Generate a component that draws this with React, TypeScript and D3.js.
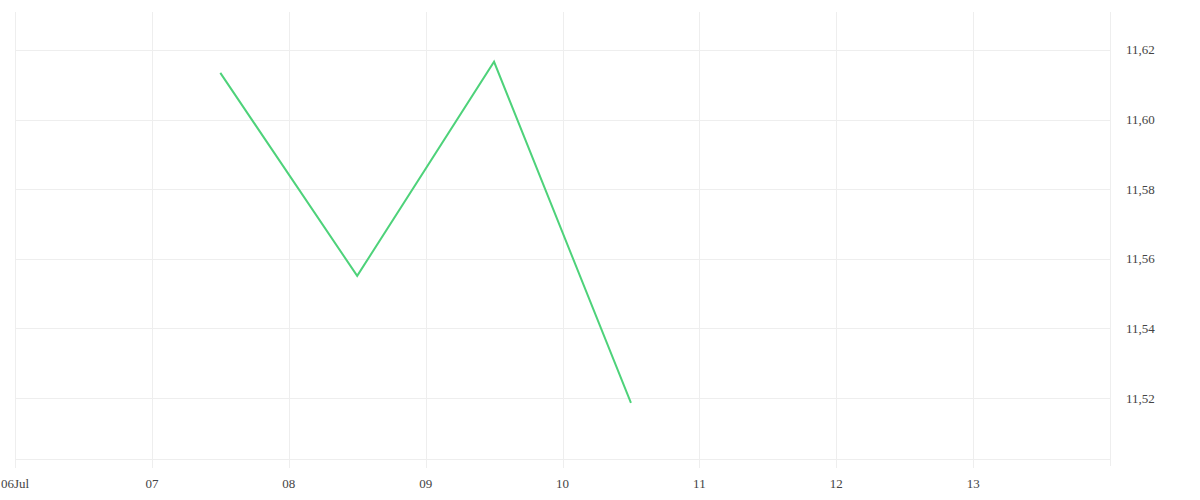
import React, { useEffect, useRef } from 'react';
import * as d3 from 'd3';

// daily closes, plotted at midday
const dates = ['2023-07-07T12:00', '2023-07-08T12:00', '2023-07-09T12:00', '2023-07-10T12:00'];
const values = [11.6134, 11.5551, 11.6166, 11.5186];
const yTicks = [11.52, 11.54, 11.56, 11.58, 11.6, 11.62];

const App: React.FC = () => {
  const ref = useRef<SVGSVGElement>(null);

  useEffect(() => {
    if (!ref.current) return;
    const width = 1200;
    const height = 500;
    const left = 15, right = 1110, top = 12, bottom = 459;

    const svg = d3.select(ref.current);
    svg.selectAll('*').remove();

    const parse = d3.timeParse('%Y-%m-%dT%H:%M');
    const data = dates.map((d, i) => ({ date: parse(d) as Date, value: values[i] }));

    const x = d3.scaleTime()
      .domain([new Date(2023, 6, 6), new Date(2023, 6, 14)])
      .range([left, right]);
    const y = d3.scaleLinear()
      .domain([11.5025, 11.6309])
      .range([bottom, top]);

    const locale = d3.formatLocale({ decimal: ',', thousands: '.', grouping: [3], currency: ['', ''] });
    const fmtY = locale.format('.2f');
    const xTicks = d3.timeDay.range(new Date(2023, 6, 6), new Date(2023, 6, 14));
    const fmtX = (d: Date, i: number) => (i === 0 ? d3.timeFormat('%d%b')(d) : d3.timeFormat('%d')(d));

    const grid = svg.append('g').attr('stroke', '#eeeeee').attr('stroke-width', 1).attr('shape-rendering', 'crispEdges');

    // horizontal grid lines
    grid.selectAll('line.h')
      .data(yTicks)
      .join('line')
      .attr('class', 'h')
      .attr('x1', left).attr('x2', right)
      .attr('y1', d => Math.round(y(d)) + 0.5).attr('y2', d => Math.round(y(d)) + 0.5);

    // bottom axis line
    grid.append('line')
      .attr('x1', left).attr('x2', right)
      .attr('y1', bottom + 0.5).attr('y2', bottom + 0.5);

    // vertical grid lines
    grid.selectAll('line.v')
      .data(xTicks)
      .join('line')
      .attr('class', 'v')
      .attr('x1', d => Math.round(x(d)) + 0.5).attr('x2', d => Math.round(x(d)) + 0.5)
      .attr('y1', top).attr('y2', bottom + 9);

    // right axis line
    grid.append('line')
      .attr('x1', right + 0.5).attr('x2', right + 0.5)
      .attr('y1', top).attr('y2', bottom + 7);

    // y labels
    svg.append('g')
      .attr('font-size', 13)
      .attr('fill', '#444')
      .selectAll('text')
      .data(yTicks)
      .join('text')
      .attr('x', right + 16)
      .attr('y', d => y(d))
      .attr('dy', '0.35em')
      .text(d => fmtY(d));

    // x labels
    svg.append('g')
      .attr('font-size', 13)
      .attr('fill', '#444')
      .attr('text-anchor', 'middle')
      .selectAll('text')
      .data(xTicks)
      .join('text')
      .attr('x', d => x(d))
      .attr('y', 488)
      .text((d, i) => fmtX(d, i));

    const line = d3.line<{ date: Date; value: number }>()
      .x(d => x(d.date))
      .y(d => y(d.value));

    svg.append('path')
      .datum(data)
      .attr('fill', 'none')
      .attr('stroke', '#4ed27a')
      .attr('stroke-width', 2)
      .attr('d', line);

    svg.attr('width', width).attr('height', height);
  }, []);

  return (
    <svg ref={ref} width={1200} height={500} style={{ position: 'absolute', left: 0, top: 0, background: '#fff' }} />
  );
};

export default App;
